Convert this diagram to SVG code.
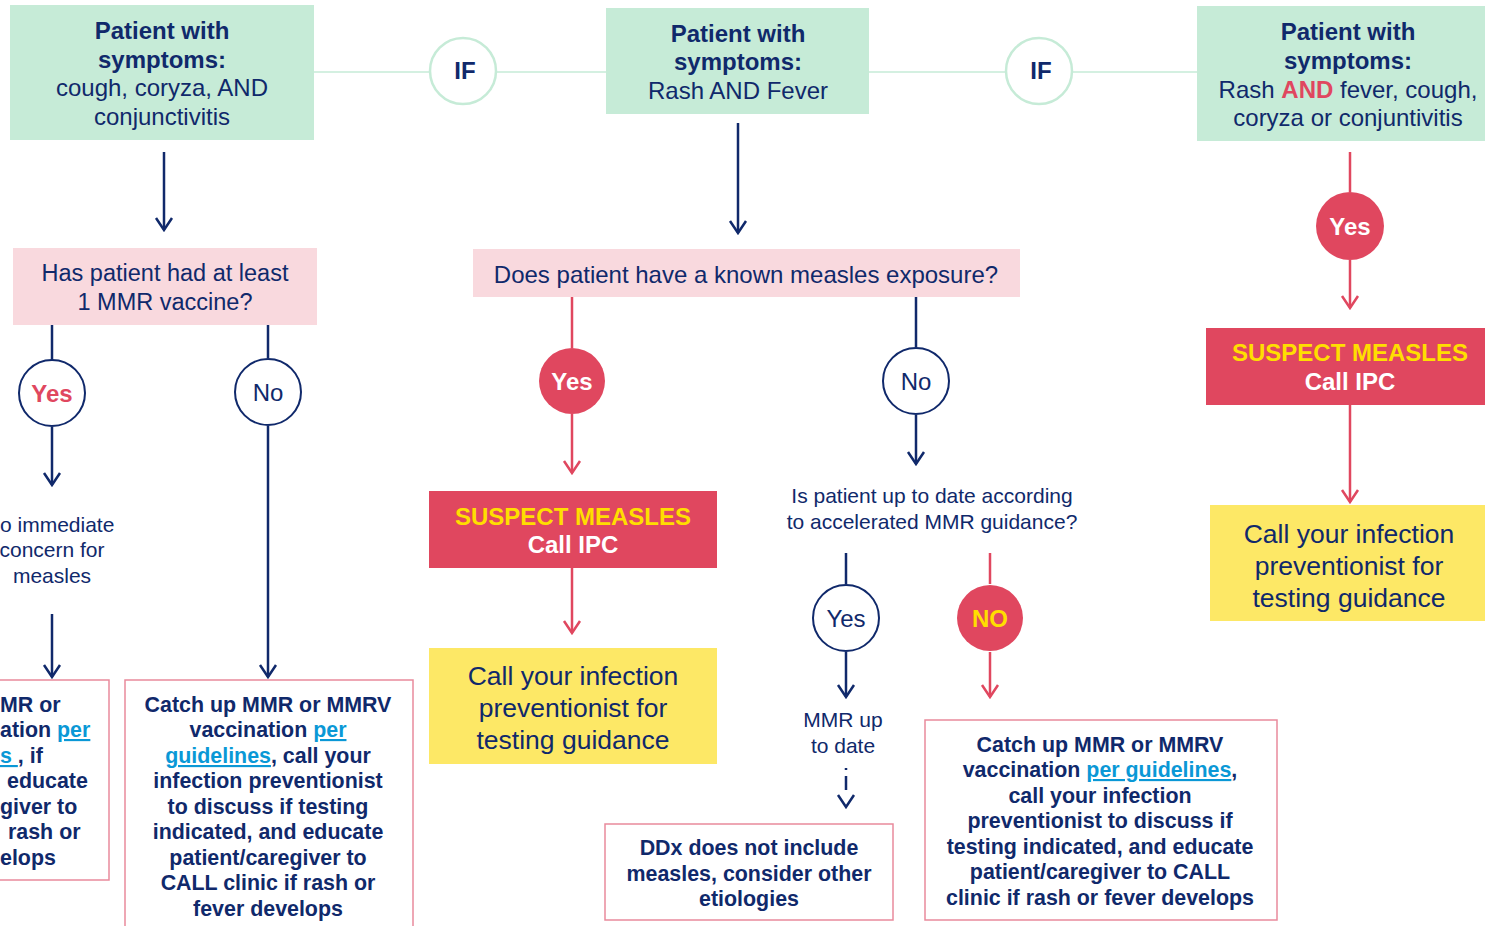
<svg xmlns="http://www.w3.org/2000/svg" width="1485" height="926" viewBox="0 0 1485 926">
<defs>
<style>
text{font-family:"Liberation Sans",Arial,sans-serif;fill:#10296b;text-anchor:middle}
.b{font-weight:bold}
.h{font-size:24px}
.q{font-size:23.5px}
.s{font-size:21px}
.t{font-size:21.4px;font-weight:bold}
.g{font-size:26.5px}
.c{font-size:24px}
.lnk{fill:#0a98d6;text-decoration:underline}
.red{fill:#e0475f}
.yel{fill:#ffde00}
.wht{fill:#ffffff}
.green{fill:#c6ebd7}
.pink{fill:#f9d9de}
.redbox{fill:#e0475f}
.yelbox{fill:#fde866}
.outbox{fill:#ffffff;stroke:#e98a9c;stroke-width:1.5}
.ifc{fill:#ffffff;stroke:#c6ebd7;stroke-width:2.5}
.nc{fill:#ffffff;stroke:#10296b;stroke-width:2}
.rc{fill:#e0475f}
.nl{stroke:#10296b;stroke-width:2.5;fill:none}
.rl{stroke:#e0475f;stroke-width:2.5;fill:none}
.gl{stroke:#c6ebd7;stroke-width:1.5;fill:none}
</style>
<marker id="an" markerUnits="userSpaceOnUse" viewBox="-14 -10 16 20" refX="0" refY="0" markerWidth="16" markerHeight="20" orient="auto">
<path d="M-12,-8 L0,0 L-12,8" fill="none" stroke="#10296b" stroke-width="2.5"/>
</marker>
<marker id="ar" markerUnits="userSpaceOnUse" viewBox="-14 -10 16 20" refX="0" refY="0" markerWidth="16" markerHeight="20" orient="auto">
<path d="M-12,-8 L0,0 L-12,8" fill="none" stroke="#e0475f" stroke-width="2.5"/>
</marker>
</defs>
<rect width="1485" height="926" fill="#ffffff"/>

<g id="connectors">
<line class="gl" x1="314" y1="72" x2="430" y2="72"/>
<line class="gl" x1="496" y1="72" x2="606" y2="72"/>
<line class="gl" x1="869" y1="72" x2="1006" y2="72"/>
<line class="gl" x1="1072" y1="72" x2="1197" y2="72"/>
<line class="nl" x1="164" y1="152" x2="164" y2="230" marker-end="url(#an)"/>
<line class="nl" x1="52" y1="325" x2="52" y2="360"/>
<line class="nl" x1="52" y1="427" x2="52" y2="485" marker-end="url(#an)"/>
<line class="nl" x1="52" y1="614" x2="52" y2="677" marker-end="url(#an)"/>
<line class="nl" x1="268" y1="325" x2="268" y2="358"/>
<line class="nl" x1="268" y1="426" x2="268" y2="677" marker-end="url(#an)"/>
<line class="nl" x1="738" y1="123" x2="738" y2="233" marker-end="url(#an)"/>
<line class="rl" x1="572" y1="297" x2="572" y2="348"/>
<line class="rl" x1="572" y1="414" x2="572" y2="473" marker-end="url(#ar)"/>
<line class="rl" x1="572" y1="568" x2="572" y2="633" marker-end="url(#ar)"/>
<line class="nl" x1="916" y1="297" x2="916" y2="347"/>
<line class="nl" x1="916" y1="415" x2="916" y2="464" marker-end="url(#an)"/>
<line class="nl" x1="846" y1="553" x2="846" y2="584"/>
<line class="nl" x1="846" y1="652" x2="846" y2="697" marker-end="url(#an)"/>
<line class="nl" x1="846" y1="768" x2="846" y2="807" stroke-dasharray="2,6,14,20" marker-end="url(#an)"/>
<line class="rl" x1="990" y1="553" x2="990" y2="584"/>
<line class="rl" x1="990" y1="652" x2="990" y2="697" marker-end="url(#ar)"/>
<line class="rl" x1="1350" y1="152" x2="1350" y2="192"/>
<line class="rl" x1="1350" y1="260" x2="1350" y2="308" marker-end="url(#ar)"/>
<line class="rl" x1="1350" y1="405" x2="1350" y2="502" marker-end="url(#ar)"/>
</g>

<g id="start1">
<rect class="green" x="10" y="5" width="304" height="135"/>
<text class="h b" x="162" y="39">Patient with</text>
<text class="h b" x="162" y="68">symptoms:</text>
<text class="h" x="162" y="96">cough, coryza, AND</text>
<text class="h" x="162" y="125">conjunctivitis</text>
</g>
<g id="if1">
<circle class="ifc" cx="463" cy="71" r="33"/>
<text class="c b" x="465" y="79">IF</text>
</g>
<g id="start2">
<rect class="green" x="606" y="8" width="263" height="106"/>
<text class="h b" x="738" y="42">Patient with</text>
<text class="h b" x="738" y="70">symptoms:</text>
<text class="h" x="738" y="99">Rash AND Fever</text>
</g>
<g id="if2">
<circle class="ifc" cx="1039" cy="71" r="33"/>
<text class="c b" x="1041" y="79">IF</text>
</g>
<g id="start3">
<rect class="green" x="1197" y="6" width="288" height="135"/>
<text class="h b" x="1348" y="40">Patient with</text>
<text class="h b" x="1348" y="69">symptoms:</text>
<text class="h" x="1348" y="98">Rash <tspan class="b red">AND</tspan> fever, cough,</text>
<text class="h" x="1348" y="126">coryza or conjuntivitis</text>
</g>

<g id="q-vaccine">
<rect class="pink" x="13" y="248" width="304" height="77"/>
<text class="q" x="165" y="281">Has patient had at least</text>
<text class="q" x="165" y="310">1 MMR vaccine?</text>
</g>
<g id="yes-vacc">
<circle class="nc" cx="52" cy="393" r="33"/>
<text class="c b red" x="52" y="402">Yes</text>
</g>
<g id="no-vacc">
<circle class="nc" cx="268" cy="392" r="33"/>
<text class="c" x="268" y="401">No</text>
</g>
<g id="no-concern">
<text class="s" x="0" y="532" style="text-anchor:start">o immediate</text>
<text class="s" x="52" y="557">concern for</text>
<text class="s" x="52" y="583">measles</text>
</g>
<g id="catchup-left">
<rect class="outbox" x="-10" y="680" width="119" height="200"/>
<text class="t" x="0" y="712" style="text-anchor:start">MR or</text>
<text class="t" x="0" y="737" style="text-anchor:start">ation <tspan class="lnk">per</tspan></text>
<text class="t" x="0" y="763" style="text-anchor:start"><tspan class="lnk">s </tspan>, if</text>
<text class="t" x="7" y="788" style="text-anchor:start">educate</text>
<text class="t" x="0" y="814" style="text-anchor:start">giver to</text>
<text class="t" x="8" y="839" style="text-anchor:start">rash or</text>
<text class="t" x="0" y="865" style="text-anchor:start">elops</text>
</g>
<g id="catchup-no">
<rect class="outbox" x="125" y="680" width="288" height="260"/>
<text class="t" x="268" y="712">Catch up MMR or MMRV</text>
<text class="t" x="268" y="737">vaccination <tspan class="lnk">per</tspan></text>
<text class="t" x="268" y="763"><tspan class="lnk">guidelines</tspan>, call your</text>
<text class="t" x="268" y="788">infection preventionist</text>
<text class="t" x="268" y="814">to discuss if testing</text>
<text class="t" x="268" y="839">indicated, and educate</text>
<text class="t" x="268" y="865">patient/caregiver to</text>
<text class="t" x="268" y="890">CALL clinic if rash or</text>
<text class="t" x="268" y="916">fever develops</text>
</g>

<g id="q-exposure">
<rect class="pink" x="473" y="249" width="547" height="48"/>
<text class="c" x="746" y="283">Does patient have a known measles exposure?</text>
</g>
<g id="yes-exp">
<circle class="rc" cx="572" cy="381" r="33"/>
<text class="c b wht" x="572" y="390">Yes</text>
</g>
<g id="no-exp">
<circle class="nc" cx="916" cy="381" r="33"/>
<text class="c" x="916" y="390">No</text>
</g>
<g id="suspect2">
<rect class="redbox" x="429" y="491" width="288" height="77"/>
<text class="c b yel" x="573" y="525">SUSPECT MEASLES</text>
<text class="c b wht" x="573" y="553">Call IPC</text>
</g>
<g id="call2">
<rect class="yelbox" x="429" y="648" width="288" height="116"/>
<text class="g" x="573" y="685">Call your infection</text>
<text class="g" x="573" y="717">preventionist for</text>
<text class="g" x="573" y="749">testing guidance</text>
</g>
<g id="q-uptodate">
<text class="s" x="932" y="503">Is patient up to date according</text>
<text class="s" x="932" y="529">to accelerated MMR guidance?</text>
</g>
<g id="yes-utd">
<circle class="nc" cx="846" cy="618" r="33"/>
<text class="c" x="846" y="627">Yes</text>
</g>
<g id="mmr-utd">
<text class="s" x="843" y="727">MMR up</text>
<text class="s" x="843" y="753">to date</text>
</g>
<g id="ddx">
<rect class="outbox" x="605" y="824" width="288" height="96"/>
<text class="t" x="749" y="855">DDx does not include</text>
<text class="t" x="749" y="881">measles, consider other</text>
<text class="t" x="749" y="906">etiologies</text>
</g>
<g id="no-utd">
<circle class="rc" cx="990" cy="618" r="33"/>
<text class="c b yel" x="990" y="627">NO</text>
</g>
<g id="catchup-right">
<rect class="outbox" x="925" y="720" width="352" height="200"/>
<text class="t" x="1100" y="752">Catch up MMR or MMRV</text>
<text class="t" x="1100" y="777">vaccination <tspan class="lnk">per guidelines</tspan>,</text>
<text class="t" x="1100" y="803">call your infection</text>
<text class="t" x="1100" y="828">preventionist to discuss if</text>
<text class="t" x="1100" y="854">testing indicated, and educate</text>
<text class="t" x="1100" y="879">patient/caregiver to CALL</text>
<text class="t" x="1100" y="905">clinic if rash or fever develops</text>
</g>

<g id="yes-rash">
<circle class="rc" cx="1350" cy="226" r="34"/>
<text class="c b wht" x="1350" y="235">Yes</text>
</g>
<g id="suspect3">
<rect class="redbox" x="1206" y="328" width="279" height="77"/>
<text class="c b yel" x="1350" y="361">SUSPECT MEASLES</text>
<text class="c b wht" x="1350" y="390">Call IPC</text>
</g>
<g id="call3">
<rect class="yelbox" x="1210" y="505" width="275" height="116"/>
<text class="g" x="1349" y="543">Call your infection</text>
<text class="g" x="1349" y="575">preventionist for</text>
<text class="g" x="1349" y="607">testing guidance</text>
</g>
</svg>
